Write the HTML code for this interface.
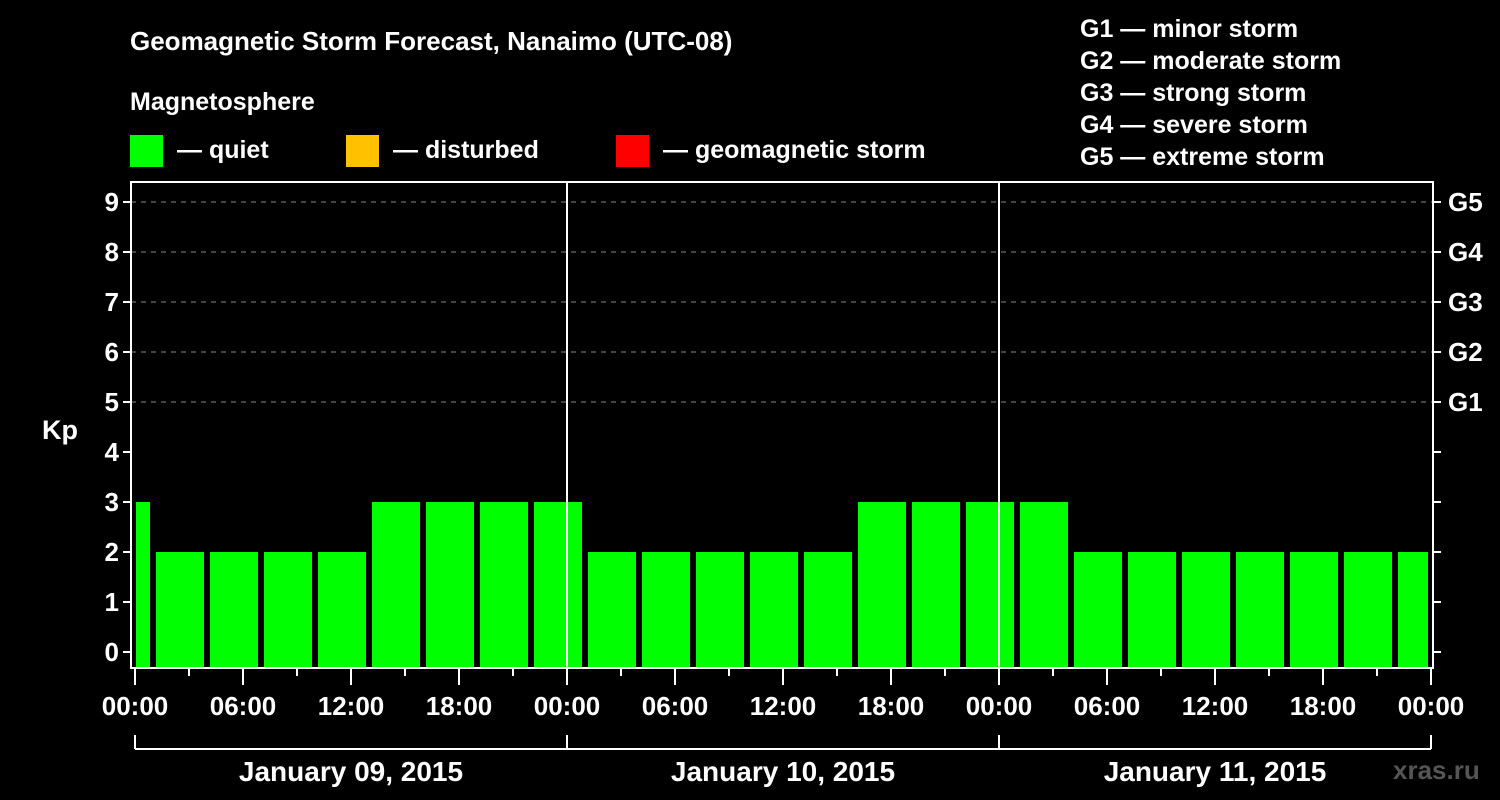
<!DOCTYPE html>
<html><head><meta charset="utf-8"><style>
html,body{margin:0;padding:0;background:#000;}
svg{display:block;font-family:"Liberation Sans",Arial,sans-serif;font-weight:bold;}
</style></head><body>
<svg id="chart" width="1500" height="800" xmlns="http://www.w3.org/2000/svg">
<rect width="1500" height="800" fill="#000"/>
<text x="130" y="50" fill="#fff" font-size="26">Geomagnetic Storm Forecast, Nanaimo (UTC-08)</text>
<text x="130" y="110" fill="#fff" font-size="25">Magnetosphere</text>
<g><rect x="130" y="135" width="33" height="32" fill="#00ff00"/><text x="177" y="158" fill="#fff" font-size="25">— quiet</text></g>
<g><rect x="346" y="135" width="33" height="32" fill="#ffc000"/><text x="393" y="158" fill="#fff" font-size="25">— disturbed</text></g>
<g><rect x="616" y="135" width="33" height="32" fill="#ff0000"/><text x="663" y="158" fill="#fff" font-size="25">— geomagnetic storm</text></g>
<g fill="#fff" font-size="25">
<text x="1080" y="37">G1 — minor storm</text>
<text x="1080" y="69">G2 — moderate storm</text>
<text x="1080" y="101">G3 — strong storm</text>
<text x="1080" y="133">G4 — severe storm</text>
<text x="1080" y="165">G5 — extreme storm</text>
</g>
<text x="1393" y="779" fill="#555" font-size="26">xras.ru</text>
<text x="42" y="439" fill="#fff" font-size="27">Kp</text>
<g id="plot"></g>
</svg>
<script>
const kpValues = [3,2,2,2,2,3,3,3,3, 2,2,2,2,2,3,3,3, 3,2,2,2,2,2,2,2];
const yTicks = [0,1,2,3,4,5,6,7,8,9];
const gLabels = ["G1","G2","G3","G4","G5"];
const xTickLabels = ["00:00","06:00","12:00","18:00","00:00","06:00","12:00","18:00","00:00","06:00","12:00","18:00","00:00"];
const dateLabels = ["January 09, 2015","January 10, 2015","January 11, 2015"];

const NS="http://www.w3.org/2000/svg";
const L=131,R=1433,T=182,B=668,X0=135,PXH=18;
const xs=h=>X0+h*PXH;
const ys=v=>652-v*50;
const g=document.getElementById('plot');
function mk(tag,attrs,parent){const e=document.createElementNS(NS,tag);for(const k in attrs)e.setAttribute(k,attrs[k]);(parent||g).appendChild(e);return e;}
// grid
for(let v=5;v<=9;v++){const e=mk('line',{x1:L,x2:R,y1:ys(v),y2:ys(v),stroke:'#888','stroke-dasharray':'5,5','stroke-width':1});

}
// bars
kpValues.forEach((v,i)=>{
  let h0=-2+i*3,h1=h0+3;
  let x0=Math.max(xs(h0)+3,X0+1),x1=Math.min(xs(h1)-3,xs(72)-3);
  const col=v>=5?'#ff0000':(v>=4?'#ffc000':'#00ff00');
  const r=mk('rect',{x:x0,y:ys(v),width:x1-x0,height:B-1-ys(v),fill:col});
  
  
});
// frame
const fr=mk('rect',{x:L,y:T,width:R-L,height:B-T,fill:'none',stroke:'#fff','stroke-width':2});


[24,48].forEach(h=>{const e=mk('line',{x1:xs(h),x2:xs(h),y1:T,y2:B,stroke:'#fff','stroke-width':2});

});
// y ticks
yTicks.forEach(v=>{
  mk('line',{x1:L-8,x2:L,y1:ys(v),y2:ys(v),stroke:'#fff','stroke-width':2});
  mk('line',{x1:R,x2:R+8,y1:ys(v),y2:ys(v),stroke:'#fff','stroke-width':2});
  const t=mk('text',{x:L-12,y:ys(v)+9,fill:'#fff','font-size':26,'text-anchor':'end'});t.textContent=v;
  
  
});
gLabels.forEach((s,i)=>{const t=mk('text',{x:1448,y:ys(5+i)+9,fill:'#fff','font-size':26});t.textContent=s;

});
// x ticks
for(let h=0;h<=72;h+=3){const major=h%6===0;
  mk('line',{x1:xs(h),x2:xs(h),y1:B,y2:major?B+17:B+8,stroke:'#fff','stroke-width':2});}
xTickLabels.forEach((s,i)=>{const t=mk('text',{x:xs(i*6),y:715,fill:'#fff','font-size':26,'text-anchor':'middle'});t.textContent=s;

});
// date brackets
mk('line',{x1:xs(0),x2:xs(72),y1:749,y2:749,stroke:'#fff','stroke-width':2});
for(let d=0;d<=3;d++)mk('line',{x1:xs(d*24),x2:xs(d*24),y1:735,y2:749,stroke:'#fff','stroke-width':2});
dateLabels.forEach((s,i)=>{const t=mk('text',{x:xs(i*24+12),y:781,fill:'#fff','font-size':28,'text-anchor':'middle'});t.textContent=s;

});
</script>
</body></html>
